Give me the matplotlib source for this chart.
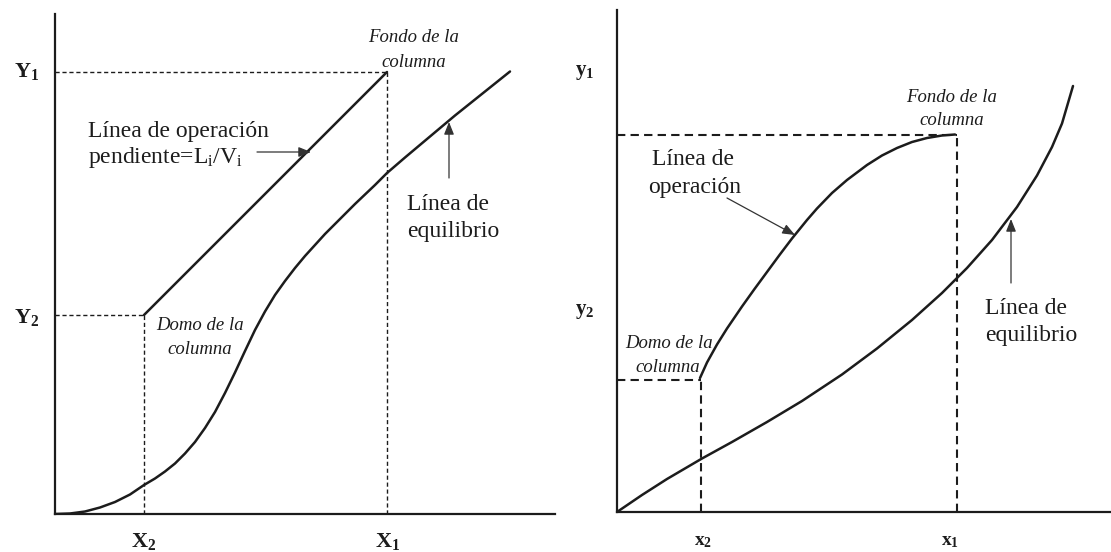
import matplotlib
matplotlib.use("Agg")
import matplotlib.pyplot as plt

plt.rcParams['mathtext.fontset'] = 'custom'
plt.rcParams['mathtext.rm'] = 'Liberation Serif'
plt.rcParams['mathtext.it'] = 'Liberation Serif:italic'
plt.rcParams['mathtext.bf'] = 'Liberation Serif:bold'
SERIF = 'Liberation Serif'
INK = '#1c1c1c'

# ---------------- Left panel data (straight operating line) ----------------
L_X2, L_X1 = 1.78, 6.64
L_Y2, L_Y1 = 3.98, 8.84
L_op_x = [L_X2, L_X1]
L_op_y = [L_Y2, L_Y1]
L_eq_x = [0.0, 0.3, 0.6, 0.9, 1.2, 1.5, 1.78, 2.0, 2.2, 2.4, 2.6, 2.8, 3.0, 3.2, 3.4,
          3.6, 3.8, 4.0, 4.2, 4.4, 4.6, 4.8, 5.0, 5.2, 5.4, 5.6, 6.0, 6.4, 6.64, 7.0,
          7.5, 8.0, 8.5, 9.1]
L_eq_y = [0.0, 0.01, 0.05, 0.13, 0.24, 0.39, 0.58, 0.71, 0.85, 1.01, 1.21, 1.44, 1.72,
          2.04, 2.42, 2.83, 3.26, 3.68, 4.05, 4.38, 4.66, 4.92, 5.16, 5.38, 5.6, 5.8,
          6.2, 6.58, 6.82, 7.13, 7.55, 7.97, 8.37, 8.85]

# ---------------- Right panel data (curved operating line) ----------------
R_x2, R_x1 = 1.68, 6.80
R_y2, R_y1 = 2.64, 7.54
R_op_x = [1.66, 1.8, 2.0, 2.2, 2.5, 2.75, 3.0, 3.25, 3.5, 3.8, 4.0, 4.3, 4.6, 5.0, 5.3,
          5.6, 5.9, 6.2, 6.5, 6.76]
R_op_y = [2.68, 2.99, 3.35, 3.67, 4.11, 4.46, 4.80, 5.14, 5.47, 5.84, 6.07, 6.38, 6.64,
          6.94, 7.13, 7.28, 7.40, 7.48, 7.53, 7.55]
R_eq_x = [0.0, 0.5, 1.0, 1.7, 2.3, 3.0, 3.7, 4.5, 5.2, 5.9, 6.5, 7.0, 7.5, 8.0, 8.4,
          8.7, 8.9, 9.12]
R_eq_y = [0.0, 0.34, 0.66, 1.07, 1.40, 1.80, 2.22, 2.75, 3.27, 3.84, 4.38, 4.88, 5.44,
          6.10, 6.73, 7.30, 7.77, 8.52]

fig = plt.figure(figsize=(11.11, 5.52), dpi=100)
fig.patch.set_facecolor('white')

axL = fig.add_axes([55 / 1111, 38 / 552, 500 / 1111, 500 / 552])
axR = fig.add_axes([617 / 1111, 40 / 552, 494 / 1111, 502 / 552])

for ax, (xl, yl) in ((axL, (10, 10)), (axR, (9.88, 10.04))):
    ax.set_xlim(0, xl)
    ax.set_ylim(0, yl)
    ax.spines['top'].set_visible(False)
    ax.spines['right'].set_visible(False)
    for s in ('left', 'bottom'):
        ax.spines[s].set_linewidth(1.6)
        ax.spines[s].set_color(INK)
    ax.set_xticks([])
    ax.set_yticks([])
    ax.set_facecolor('none')

arrow_kw = dict(arrowstyle='-|>,head_length=0.75,head_width=0.3', lw=0.9, color='#333333',
                shrinkA=0, shrinkB=0)
curve_kw = dict(color=INK, lw=1.8, solid_joinstyle='round', solid_capstyle='round')

# ---- Left panel ----
ax = axL
ax.plot(L_op_x, L_op_y, **curve_kw)
ax.plot(L_eq_x, L_eq_y, **curve_kw)
dl = dict(color=INK, lw=1.0, dashes=(3, 2))
ax.plot([0, L_X1], [L_Y1, L_Y1], **dl)
ax.plot([L_X1, L_X1], [0, L_Y1], **dl)
ax.plot([0, L_X2], [L_Y2, L_Y2], **dl)
ax.plot([L_X2, L_X2], [0, L_Y2], **dl)

ax.text(0.66, 7.64, 'Línea de operación', family=SERIF, fontsize=17, color=INK,
        ha='left', va='center')
ax.text(0.66, 7.14, r'pendiente=L$_\mathregular{i}$/V$_\mathregular{i}$', family=SERIF,
        fontsize=17, color=INK, ha='left', va='center')
ax.annotate('', xy=(5.12, 7.24), xytext=(4.04, 7.24), arrowprops=arrow_kw)
ax.annotate('', xy=(7.88, 7.84), xytext=(7.88, 6.72), arrowprops=arrow_kw)
ax.text(7.04, 6.18, 'Línea de', family=SERIF, fontsize=17, color=INK, ha='left', va='center')
ax.text(7.04, 5.64, 'equilibrio', family=SERIF, fontsize=17, color=INK, ha='left', va='center')
ax.text(7.18, 9.52, 'Fondo de la', family=SERIF, style='italic', fontsize=13.5, color=INK,
        ha='center', va='center')
ax.text(7.18, 9.04, 'columna', family=SERIF, style='italic', fontsize=13.5, color=INK,
        ha='center', va='center')
ax.text(2.9, 3.78, 'Domo de la', family=SERIF, style='italic', fontsize=13.5, color=INK,
        ha='center', va='center')
ax.text(2.9, 3.28, 'columna', family=SERIF, style='italic', fontsize=13.5, color=INK,
        ha='center', va='center')
ax.text(-0.56, L_Y1, r'$\mathbf{Y_1}$', fontsize=16, color=INK, ha='center', va='center')
ax.text(-0.56, 3.94, r'$\mathbf{Y_2}$', fontsize=16, color=INK, ha='center', va='center')
ax.text(L_X2, -0.56, r'$\mathbf{X_2}$', fontsize=16, color=INK, ha='center', va='center')
ax.text(6.66, -0.56, r'$\mathbf{X_1}$', fontsize=16, color=INK, ha='center', va='center')

# ---- Right panel ----
ax = axR
ax.plot(R_op_x, R_op_y, **curve_kw)
ax.plot(R_eq_x, R_eq_y, **curve_kw)
dr = dict(color=INK, lw=1.5, dashes=(4, 2.5))
ax.plot([0, R_x1], [R_y1, R_y1], **dr)
ax.plot([R_x1, R_x1], [0, R_y1], **dr)
ax.plot([0, R_x2], [R_y2, R_y2], **dr)
ax.plot([R_x2, R_x2], [0, R_y2], **dr)

ax.text(1.52, 7.04, 'Línea de', family=SERIF, fontsize=17, color=INK, ha='center', va='center')
ax.text(1.56, 6.48, 'operación', family=SERIF, fontsize=17, color=INK, ha='center', va='center')
ax.annotate('', xy=(3.56, 5.54), xytext=(2.2, 6.28), arrowprops=arrow_kw)
ax.annotate('', xy=(7.88, 5.86), xytext=(7.88, 4.58), arrowprops=arrow_kw)
ax.text(7.36, 4.08, 'Línea de', family=SERIF, fontsize=17, color=INK, ha='left', va='center')
ax.text(7.36, 3.54, 'equilibrio', family=SERIF, fontsize=17, color=INK, ha='left', va='center')
ax.text(6.7, 8.28, 'Fondo de la', family=SERIF, style='italic', fontsize=13.5, color=INK,
        ha='center', va='center')
ax.text(6.7, 7.82, 'columna', family=SERIF, style='italic', fontsize=13.5, color=INK,
        ha='center', va='center')
ax.text(1.04, 3.38, 'Domo de la', family=SERIF, style='italic', fontsize=13.5, color=INK,
        ha='center', va='center', clip_on=False)
ax.text(1.02, 2.9, 'columna', family=SERIF, style='italic', fontsize=13.5, color=INK,
        ha='center', va='center')
ax.text(-0.64, 8.8, r'$\mathbf{y_1}$', fontsize=15, color=INK, ha='center', va='center')
ax.text(-0.64, 4.02, r'$\mathbf{y_2}$', fontsize=15, color=INK, ha='center', va='center')
ax.text(1.72, -0.56, r'$\mathbf{x_2}$', fontsize=14, color=INK, ha='center', va='center')
ax.text(6.66, -0.56, r'$\mathbf{x_1}$', fontsize=14, color=INK, ha='center', va='center')

fig.savefig('out.png', dpi=100, facecolor='white')
